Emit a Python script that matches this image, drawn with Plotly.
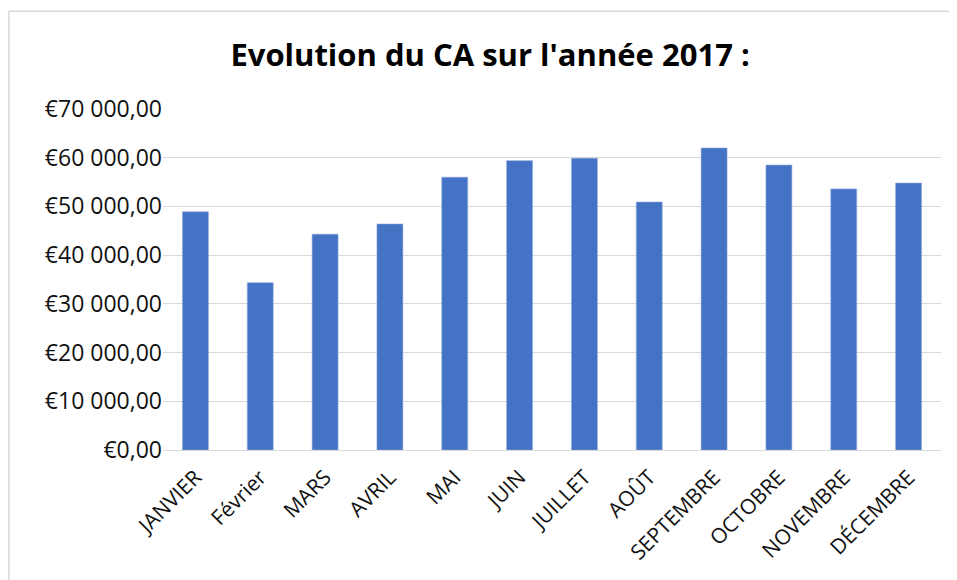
import plotly.graph_objects as go

months = ["JANVIER", "Février", "MARS", "AVRIL", "MAI", "JUIN", "JUILLET",
          "AOÛT", "SEPTEMBRE", "OCTOBRE", "NOVEMBRE", "DÉCEMBRE"]
ca_2017 = [48900, 34350, 44300, 46400, 56000, 59400, 59900,
           50900, 62000, 58500, 53600, 54800]
y_tickvals = [0, 10000, 20000, 30000, 40000, 50000, 60000, 70000]
y_ticktext = ["€0,00", "€10 000,00", "€20 000,00", "€30 000,00",
              "€40 000,00", "€50 000,00", "€60 000,00", "€70 000,00"]

bar_color = "#4472c4"
grid_color = "#d9d9d9"
font_family = "Open Sans, Liberation Sans, sans-serif"

fig = go.Figure()
fig.add_trace(
    go.Bar(
        x=months,
        y=ca_2017,
        marker=dict(color=bar_color, line=dict(color="#8faadc", width=0.6)),
        hovertemplate="%{x}: %{y:,.2f} €<extra></extra>",
    )
)

fig.update_yaxes(
    range=[0, 70000],
    tickvals=y_tickvals,
    ticktext=y_ticktext,
    showgrid=True,
    gridcolor=grid_color,
    gridwidth=1.3,
    zeroline=True,
    zerolinecolor=grid_color,
    zerolinewidth=1.3,
    ticks="",
    ticklen=0,
    tickfont=dict(size=23, color="#111111"),
    showline=False,
)
fig.update_xaxes(
    tickangle=-45,
    tickfont=dict(size=21, color="#111111"),
    ticklabelstandoff=10,
    showgrid=False,
    showline=False,
    ticks="",
    ticklen=0,
)

# light outer frame (top and left edges only, the rest is cut off)
frame = dict(color="#d9d9d9", width=1.5)
fig.add_shape(type="line", xref="paper", yref="paper",
              x0=-0.198, x1=1.1, y0=1.287, y1=1.287, line=frame)
fig.add_shape(type="line", xref="paper", yref="paper",
              x0=-0.198, x1=-0.198, y0=-0.45, y1=1.287, line=frame)

fig.update_layout(
    width=949,
    height=572,
    template="none",
    paper_bgcolor="white",
    plot_bgcolor="white",
    bargap=0.6,
    showlegend=False,
    font=dict(family=font_family, color="#111111"),
    title=dict(
        text="<b>Evolution du CA sur l'année 2017 :</b>",
        x=0.508,
        xanchor="center",
        y=0.918,
        yanchor="middle",
        font=dict(size=31, color="#000000", family=font_family),
    ),
    margin=dict(l=155, r=16, t=101, b=130, pad=0),
)

fig.write_html("out.html")
